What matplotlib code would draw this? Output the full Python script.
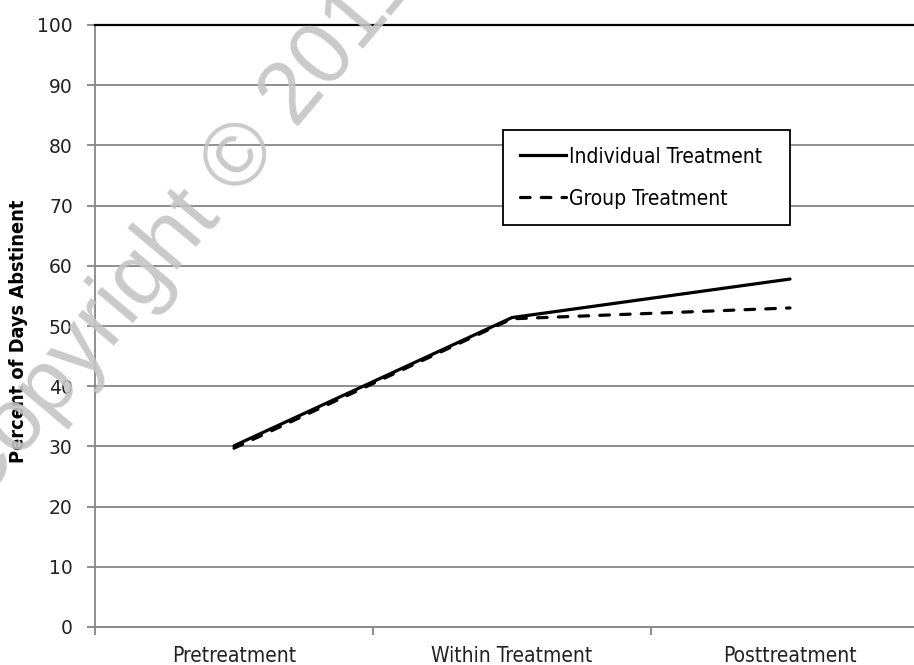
import matplotlib
matplotlib.use("Agg")
import matplotlib.pyplot as plt
from matplotlib.lines import Line2D

categories = ["Pretreatment", "Within Treatment", "Posttreatment"]
individual = [30.1, 51.4, 57.8]
group = [29.7, 51.2, 53.0]
yticks = [0, 10, 20, 30, 40, 50, 60, 70, 80, 90, 100]

W, H = 914, 665
fig = plt.figure(figsize=(W / 100, H / 100), dpi=100)
x0, x1, y0, y1 = 95, 929, 627, 25
ax = fig.add_axes([x0 / W, 1 - y0 / H, (x1 - x0) / W, (y0 - y1) / H])

cond = dict(family="DejaVu Sans", stretch="condensed")
dash = (0, (3.0, 3.5))
xs = [0.5, 1.5, 2.5]
ax.plot(xs, individual, color="black", lw=2.3, solid_capstyle="round", zorder=3)
ax.plot(xs, group, color="black", lw=2.3, linestyle=dash, dash_capstyle="round", zorder=3)

ax.set_xlim(0, 3)
ax.set_ylim(0, 100)
ax.set_yticks(yticks)
ax.set_yticklabels([str(v) for v in yticks], fontsize=13.5, family="DejaVu Sans", color="#222222")
ax.set_xticks([0, 1, 2, 3])
ax.set_xticklabels([])
ax.set_xticks(xs, minor=True)
ax.set_xticklabels(categories, minor=True, fontsize=15, color="#222222", **cond)
ax.tick_params(axis="x", which="minor", length=0, pad=14)
ax.tick_params(axis="x", which="major", length=6, color="#868686", width=1.3)
ax.tick_params(axis="y", length=6, color="#868686", width=1.3, pad=10)
ax.grid(axis="y", color="#868686", lw=1.3)
ax.set_axisbelow(True)
ax.spines["right"].set_visible(False)
ax.spines["top"].set_color("black")
ax.spines["top"].set_linewidth(1.6)
for s in ["left", "bottom"]:
    ax.spines[s].set_color("#868686")
    ax.spines[s].set_linewidth(1.3)

fig.text(19 / W, 1 - 331 / H, "Percent of Days Abstinent", rotation=90, ha="center", va="center",
         fontsize=14.3, fontweight="bold", **cond)

handles = [Line2D([], [], color="black", lw=2.3),
           Line2D([], [], color="black", lw=2.3, linestyle=dash, dash_capstyle="round")]
bx = (503 - x0) / (x1 - x0)
bw = (790 - 503) / (x1 - x0)
by = (y0 - 130) / (y0 - y1)
leg = ax.legend(handles, ["Individual Treatment", "Group Treatment"],
                loc="upper left", bbox_to_anchor=(bx, by - 0.001, bw, 0.001), mode="expand",
                frameon=True, fancybox=False, edgecolor="black", framealpha=1,
                prop={"family": "DejaVu Sans", "stretch": "condensed", "size": 15},
                handlelength=2.2, handletextpad=0.15,
                labelspacing=1.05, borderpad=0.8, borderaxespad=0)
leg.get_frame().set_linewidth(1.3)

fig.text(-0.025, 0.2355, "Copyright © 2011", rotation=50, rotation_mode="anchor",
         fontsize=64, color="#c4c4c4", family="Liberation Sans",
         ha="left", va="baseline", zorder=10, alpha=0.9)

fig.savefig("out.png", dpi=100)
